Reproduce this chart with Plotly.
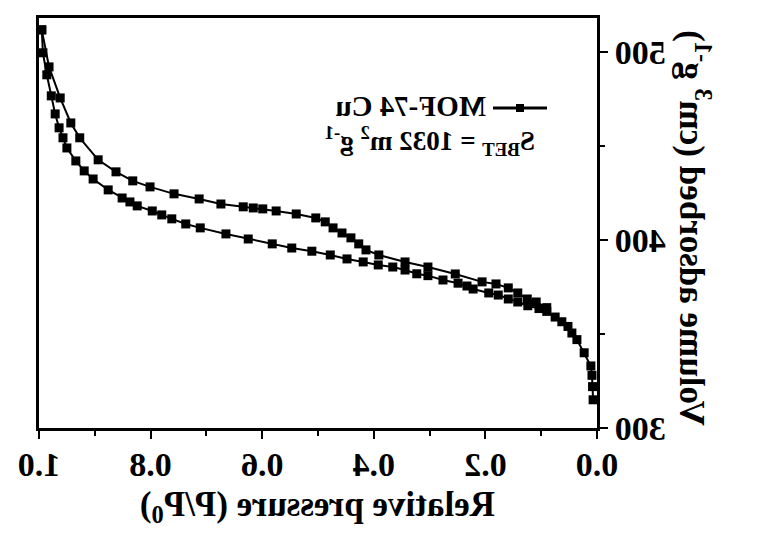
'''
N2 isotherm of MOF-74 Cu (relative pressure vs adsorbed volume).
The reference picture is a mirrored copy, so the page is flipped with CSS.
'''
import plotly.graph_objects as go


# Adsorption branch (P/P0 ascending).
ADS_P = [0.007, 0.008, 0.009, 0.011, 0.023, 0.036, 0.045, 0.052, 0.063, 0.075,
         0.090, 0.104, 0.124, 0.142, 0.159, 0.177, 0.194, 0.222, 0.233, 0.249,
         0.276, 0.303, 0.323, 0.344, 0.366, 0.392, 0.419, 0.448, 0.478, 0.511,
         0.547, 0.582, 0.625, 0.665, 0.711, 0.737, 0.762, 0.780, 0.797, 0.824,
         0.837, 0.851, 0.876, 0.903, 0.919, 0.934, 0.950, 0.957, 0.964, 0.971,
         0.978, 0.986, 0.993, 0.995]
ADS_V = [315.0, 322.0, 328.0, 333.0, 340.0, 347.0, 350.5, 354.0, 356.5, 359.0,
         362.0, 363.5, 365.0, 367.0, 368.6, 370.7, 371.8, 373.9, 375.5, 377.0,
         378.7, 381.0, 382.0, 384.0, 385.6, 386.7, 388.3, 389.9, 392.0, 394.0,
         395.7, 397.9, 400.5, 403.2, 406.4, 408.5, 411.2, 413.3, 415.4, 418.1,
         420.2, 422.3, 426.6, 432.4, 436.7, 442.0, 448.9, 454.3, 459.6, 467.0,
         476.6, 487.8, 499.5, 511.7]

# Desorption branch (P/P0 descending).
DES_P = [0.995, 0.982, 0.962, 0.943, 0.927, 0.894, 0.862, 0.832, 0.801, 0.758,
         0.713, 0.674, 0.634, 0.616, 0.599, 0.575, 0.539, 0.504, 0.487, 0.473,
         0.457, 0.441, 0.427, 0.414, 0.391, 0.344, 0.303, 0.254, 0.206, 0.181,
         0.159, 0.142, 0.125, 0.109, 0.090]
DES_V = [511.7, 492.0, 475.5, 462.2, 454.3, 442.6, 436.2, 431.4, 428.2, 424.5,
         421.8, 419.1, 417.6, 417.0, 416.5, 415.4, 413.8, 411.7, 409.6, 406.4,
         403.7, 401.1, 397.9, 394.7, 392.0, 388.3, 385.6, 381.9, 377.7, 376.6,
         374.5, 371.8, 368.6, 367.0, 364.0]

X_TICKS = [0.0, 0.2, 0.4, 0.6, 0.8, 1.0]
X_LABELS = ['0.0', '0.2', '0.4', '0.6', '0.8', '1.0']
Y_TICKS = [300, 400, 500]

SAMPLE_NAME = 'MOF-74 Cu'
BET_TEXT = 'S<sub>BET</sub> = 1032 m<sup>2</sup> g<sup>-1</sup>'

FONT = 'Liberation Serif'

# Plot area in pixels (unmirrored): used to place the hand-made legend.
PLOT_L, PLOT_R, PLOT_T, PLOT_B = 186, 744, 18, 428


def px_x(x):
    '''Pixel column -> paper x.'''
    return (x - PLOT_L) / (PLOT_R - PLOT_L)


def px_y(y):
    '''Pixel row -> paper y.'''
    return (PLOT_B - y) / (PLOT_B - PLOT_T)


def bold(size):
    return dict(family=FONT, size=size, color='black', weight='bold')


fig = go.Figure()

for xs, ys in ((ADS_P, ADS_V), (DES_P, DES_V)):
    fig.add_scatter(
        x=xs, y=ys, name=SAMPLE_NAME, mode='lines+markers',
        line=dict(color='black', width=2),
        marker=dict(symbol='square', size=9, color='black'),
        showlegend=False,
    )

axis_style = dict(
    showline=True, linecolor='black', linewidth=3, mirror=True,
    ticks='outside', ticklen=8, tickwidth=2, tickcolor='black',
    showgrid=False, zeroline=False,
    tickfont=bold(34),
)

fig.update_xaxes(
    range=[0, 1], tickvals=X_TICKS, ticktext=X_LABELS,
    ticklabelstandoff=-4,
    minor=dict(dtick=0.1, ticks='outside', ticklen=5, tickwidth=2, tickcolor='black'),
    **axis_style,
)
fig.update_yaxes(
    range=[300, 518], tickvals=Y_TICKS,
    minor=dict(dtick=50, ticks='outside', ticklen=5, tickwidth=2, tickcolor='black'),
    **axis_style,
)

# Axis titles as annotations so they sit where the original has them.
fig.add_annotation(
    text='Relative pressure (P/P<sub>0</sub>)', xref='paper', yref='paper',
    x=0.5, y=px_y(506), xanchor='center', yanchor='middle', showarrow=False,
    font=bold(35),
)
fig.add_annotation(
    text='Volume adsorbed (cm<sup>3</sup> g<sup>-1</sup>)', xref='paper', yref='paper',
    x=px_x(88), y=px_y(228), xanchor='center', yanchor='middle', textangle=-90,
    showarrow=False, font=bold(35),
)

# Legend drawn by hand: a line with a square in the middle, then the name.
fig.add_shape(type='line', xref='paper', yref='paper',
              x0=px_x(236), x1=px_x(290), y0=px_y(108), y1=px_y(108),
              line=dict(color='black', width=3))
fig.add_shape(type='rect', xref='paper', yref='paper',
              x0=px_x(259), x1=px_x(267), y0=px_y(112), y1=px_y(104),
              line=dict(width=0), fillcolor='black')
fig.add_annotation(
    text=SAMPLE_NAME, xref='paper', yref='paper',
    x=px_x(295), y=px_y(106), xanchor='left', yanchor='middle',
    showarrow=False, font=bold(29),
)
fig.add_annotation(
    text=BET_TEXT, xref='paper', yref='paper',
    x=px_x(246), y=px_y(141), xanchor='left', yanchor='middle',
    showarrow=False, font=bold(27),
)

fig.update_layout(
    width=783, height=541,
    margin=dict(l=PLOT_L, r=783 - PLOT_R, t=PLOT_T, b=541 - PLOT_B),
    paper_bgcolor='white', plot_bgcolor='white',
    showlegend=False,
)

# The reference is a horizontally mirrored image: flip the whole plot.
fig.write_html(
    'out.html',
    config={'displayModeBar': False},
    post_script="document.body.style.margin='0';"
                "document.getElementById('{plot_id}').style.transform='scaleX(-1)';",
)
